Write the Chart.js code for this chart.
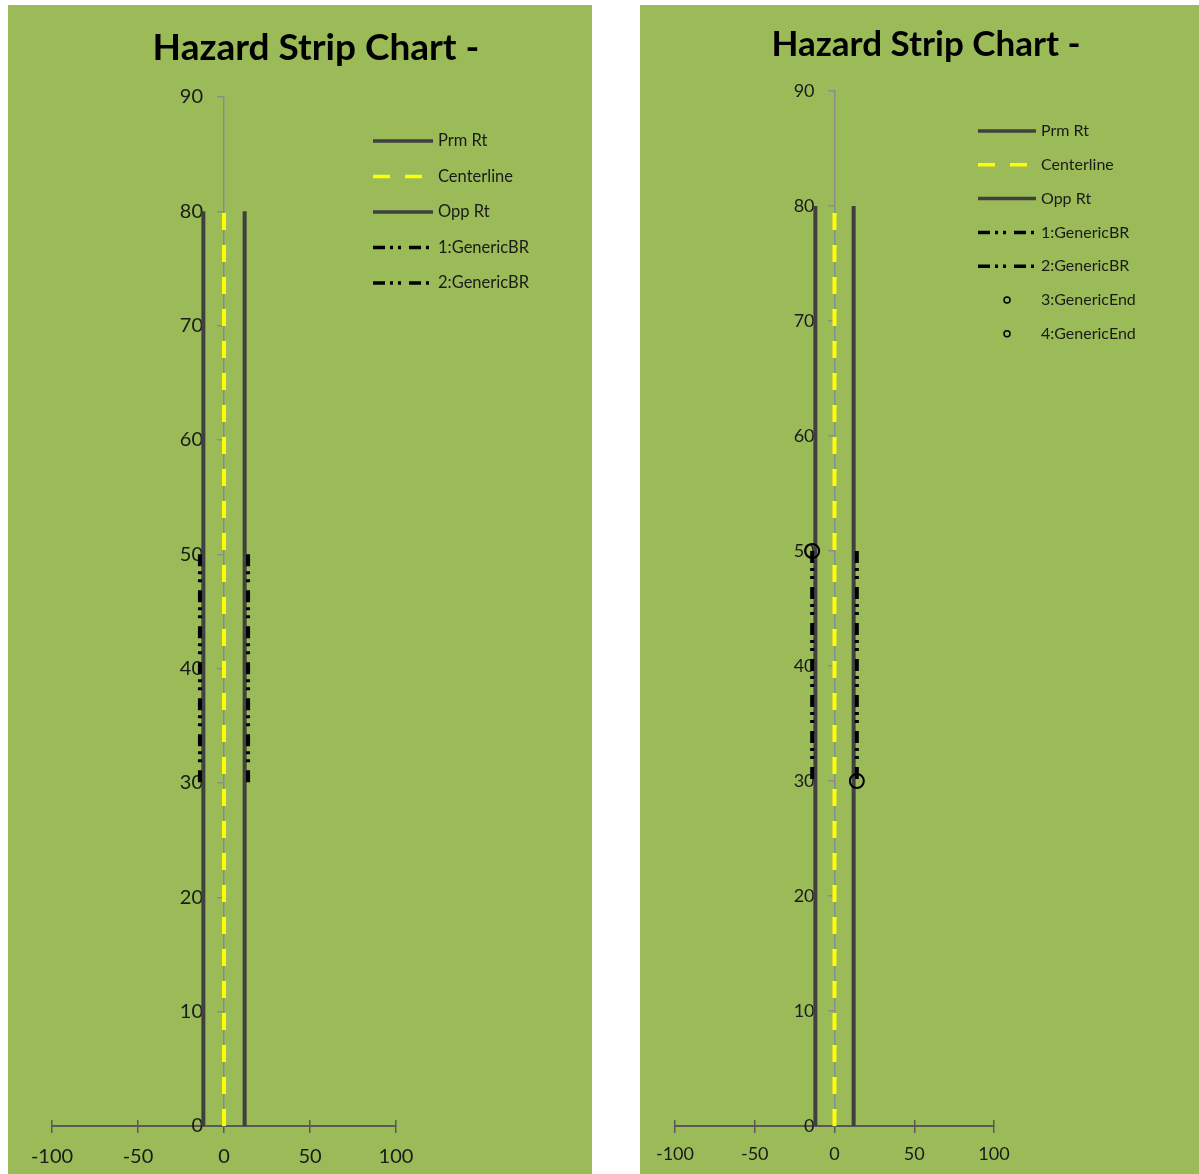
<!DOCTYPE html>
<html>
<head>
<meta charset="utf-8">
<title>Hazard Strip Chart</title>
<script src="https://cdn.jsdelivr.net/npm/chart.js@4/dist/chart.umd.min.js"></script>
<style>
  html, body { margin: 0; padding: 0; background: #ffffff; }
  .panel { position: absolute; background: #9BBB59; overflow: hidden; }
  #panelA { left: 8px; top: 5px; width: 584px; height: 1169px; }
  #panelB { left: 640px; top: 5px; width: 559px; height: 1169px; }
  canvas { display: block; }
</style>
</head>
<body>
<div class="panel" id="panelA"><canvas id="stripA" width="584" height="1169"></canvas></div>
<div class="panel" id="panelB"><canvas id="stripB" width="559" height="1169"></canvas></div>
<script>
// Lateral offset (x) and station (y) of each strip feature
const prmRtX = [-12, -12];
const prmRtY = [0, 80];
const centerlineX = [0, 0];
const centerlineY = [0, 80];
const oppRtX = [12, 12];
const oppRtY = [0, 80];
const br1X = [-14, -14];
const br1Y = [50, 30];
const br2X = [14, 14];
const br2Y = [50, 30];
const end3X = [-14];
const end3Y = [50];
const end4X = [14];
const end4Y = [30];

const seriesNames = ['Prm Rt', 'Centerline', 'Opp Rt', '1:GenericBR', '2:GenericBR', '3:GenericEnd', '4:GenericEnd'];
const xTickValues = [-100, -50, 0, 50, 100];
const yTickValues = [0, 10, 20, 30, 40, 50, 60, 70, 80, 90];
const chartTitle = 'Hazard Strip Chart -';

const FONT = 'Lato, "Open Sans", sans-serif';

function pts(xs, ys) {
  return xs.map((x, i) => ({ x: x, y: ys[i] }));
}

function buildDatasets(count) {
  const roadLine = { showLine: true, pointRadius: 0, borderColor: '#404040', borderWidth: 4 };
  const brLine = { showLine: true, pointRadius: 0, borderColor: '#000000', borderWidth: 4, borderDash: [12, 5, 3, 5, 3, 8] };
  const endMark = { showLine: false, pointRadius: 7, pointBorderWidth: 2, pointBorderColor: '#000000', pointBackgroundColor: 'rgba(0,0,0,0)', borderColor: '#000000' };
  const all = [
    Object.assign({ label: seriesNames[0], data: pts(prmRtX, prmRtY) }, roadLine),
    { label: seriesNames[1], data: pts(centerlineX, centerlineY), showLine: true, pointRadius: 0, borderColor: '#FFFF00', borderWidth: 4, borderDash: [17, 15] },
    Object.assign({ label: seriesNames[2], data: pts(oppRtX, oppRtY) }, roadLine),
    Object.assign({ label: seriesNames[3], data: pts(br1X, br1Y) }, brLine),
    Object.assign({ label: seriesNames[4], data: pts(br2X, br2Y) }, brLine),
    Object.assign({ label: seriesNames[5], data: pts(end3X, end3Y) }, endMark),
    Object.assign({ label: seriesNames[6], data: pts(end4X, end4Y) }, endMark)
  ].slice(0, count);
  // later series paint over earlier ones
  all.forEach((d, i) => { d.order = count - i; d.fill = false; d.tension = 0; d.xAxisID = 'x'; d.yAxisID = 'y'; });
  return all;
}

// Title and legend are laid out at fixed spots inside the panel
const stripDecor = {
  id: 'stripDecor',
  afterDraw(chart, args, o) {
    const ctx = chart.ctx;
    ctx.save();
    ctx.font = o.titleFont;
    ctx.fillStyle = '#000000';
    ctx.textAlign = 'center';
    ctx.textBaseline = 'alphabetic';
    ctx.fillText(o.title, o.titleX, o.titleY);

    chart.data.datasets.forEach((ds, i) => {
      const y = o.legendY + i * o.legendGap;
      const x0 = o.legendX;
      const x1 = x0 + o.sampleW;
      ctx.beginPath();
      if (ds.showLine) {
        ctx.setLineDash(ds.borderDash || []);
        ctx.lineWidth = o.sampleLineW;
        ctx.strokeStyle = ds.borderColor;
        ctx.moveTo(x0, y);
        ctx.lineTo(x1, y);
      } else {
        ctx.setLineDash([]);
        ctx.lineWidth = 1.5;
        ctx.strokeStyle = ds.pointBorderColor;
        ctx.arc((x0 + x1) / 2, y, o.markerR, 0, Math.PI * 2);
      }
      ctx.stroke();
      ctx.setLineDash([]);
      ctx.font = o.legendFont;
      ctx.fillStyle = '#1a1a1a';
      ctx.textAlign = 'left';
      ctx.textBaseline = 'middle';
      ctx.fillText(ds.label, x1 + o.textGap, y);
    });
    ctx.restore();
  }
};

function makeChart(id, count, cfg) {
  const tickFont = { family: FONT, size: cfg.tickSize };
  return new Chart(document.getElementById(id), {
    type: 'scatter',
    data: { datasets: buildDatasets(count) },
    plugins: [stripDecor],
    options: {
      responsive: false,
      devicePixelRatio: 1,
      animation: false,
      layout: { padding: cfg.padding },
      plugins: {
        legend: { display: false },
        tooltip: { enabled: false },
        title: { display: false },
        stripDecor: cfg.decor
      },
      scales: {
        // value axis crossing at y = 0, ticks hanging below
        x: {
          type: 'linear',
          min: -100,
          max: 100,
          position: { y: 0 },
          afterBuildTicks: (s) => { s.ticks = xTickValues.map(v => ({ value: v })); },
          grid: { drawOnChartArea: false, drawTicks: true, tickLength: 6, color: '#595959', lineWidth: 1.5 },
          border: { display: true, color: '#595959', width: 2 },
          ticks: { font: tickFont, color: '#1a1a1a', padding: cfg.xPad, maxRotation: 0 }
        },
        // upper half of the crossing tick marks on the x axis
        xCross: {
          type: 'linear',
          axis: 'x',
          min: -100,
          max: 100,
          position: { y: cfg.crossUp },
          afterBuildTicks: (s) => { s.ticks = xTickValues.map(v => ({ value: v })); },
          grid: { drawOnChartArea: false, drawTicks: true, tickLength: 6, color: '#595959', lineWidth: 1.5 },
          border: { display: false },
          ticks: { display: false }
        },
        // station axis crossing at x = 0, ticks on the left
        y: {
          type: 'linear',
          min: 0,
          max: 90,
          position: { x: 0 },
          afterBuildTicks: (s) => { s.ticks = yTickValues.map(v => ({ value: v })); },
          grid: { drawOnChartArea: false, drawTicks: true, tickLength: 6, color: '#8c8c8c', lineWidth: 1.5 },
          border: { display: true, color: '#8c8c8c', width: 1.5 },
          ticks: { display: false }
        },
        // station labels, set off to the left of the axis line
        yLabels: {
          type: 'linear',
          axis: 'y',
          min: 0,
          max: 90,
          position: { x: cfg.labelX },
          afterBuildTicks: (s) => { s.ticks = yTickValues.map(v => ({ value: v })); },
          grid: { display: false, drawOnChartArea: false, drawTicks: false },
          border: { display: false },
          ticks: { font: tickFont, color: '#1a1a1a' }
        }
      }
    }
  });
}

makeChart('stripA', 5, {
  padding: { left: 44, right: 196, top: 92, bottom: 48 },
  tickSize: 20,
  xPad: 13,
  crossUp: 0.52,
  labelX: -12.2,
  decor: {
    title: chartTitle, titleFont: 'bold 37px ' + FONT, titleX: 308, titleY: 55,
    legendX: 365, legendY: 136, legendGap: 35.5, sampleW: 60, sampleLineW: 3.5, textGap: 5,
    legendFont: '16.5px ' + FONT, markerR: 3
  }
});

makeChart('stripB', 7, {
  padding: { left: 35, right: 205, top: 86, bottom: 48 },
  tickSize: 18,
  xPad: 11,
  crossUp: 0.52,
  labelX: -12.5,
  decor: {
    title: chartTitle, titleFont: 'bold 35px ' + FONT, titleX: 286, titleY: 51,
    legendX: 338, legendY: 126, legendGap: 33.8, sampleW: 58, sampleLineW: 3.5, textGap: 5,
    legendFont: '16px ' + FONT, markerR: 3
  }
});
</script>
</body>
</html>
